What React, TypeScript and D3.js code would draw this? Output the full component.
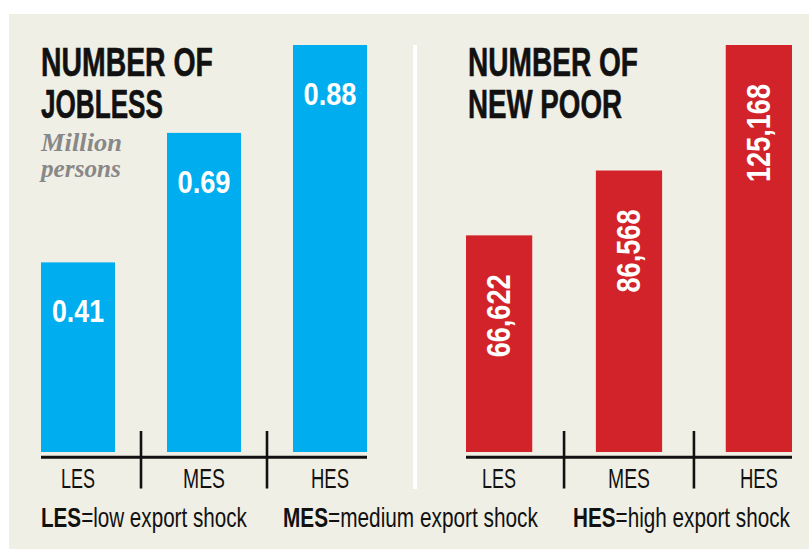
import React, { useLayoutEffect, useRef, useState } from "react";
import * as d3 from "d3";

const categories = ["LES", "MES", "HES"];
const joblessValues = [0.41, 0.69, 0.88];
const joblessLabels = ["0.41", "0.69", "0.88"];
const poorValues = [66622, 86568, 125168];
const poorLabels = ["66,622", "86,568", "125,168"];
const legendKeys = ["LES", "MES", "HES"];
const legendDescs = ["=low export shock", "=medium export shock", "=high export shock"];

const W = 809;
const H = 550;
const BG = "#f0efe5";
const BLUE = "#00aeef";
const RED = "#d2232a";
const INK = "#111111";
const COND = "'Liberation Sans Narrow', 'Liberation Sans', Arial, sans-serif";
const SERIF = "'Liberation Serif', 'DejaVu Serif', serif";

const catLabelW: Record<string, number> = { LES: 34, MES: 42, HES: 38 };

function FitText({ x, y, width, children, ...props }: any) {
  const ref = useRef<SVGTextElement>(null);
  const [s, setS] = useState(1);
  useLayoutEffect(() => {
    if (ref.current) {
      const w = ref.current.getComputedTextLength();
      if (w > 0) setS(width / w);
    }
  }, [width]);
  return (
    <text ref={ref} transform={`translate(${x},${y}) scale(${s},1)`} {...props}>
      {children}
    </text>
  );
}

function Panel({ values, labels, color, x0, x1, pad, domainMax, title, rotated, labelWidths }: any) {
  const x = d3.scaleBand<string>().domain(categories).range([x0, x1]).paddingInner(pad).paddingOuter(0);
  const y = d3.scaleLinear().domain([0, domainMax]).range([452, 45]);
  const bw = x.bandwidth();
  const gap = x.step() - bw;
  return (
    <g>
      {categories.map((c, i) => {
        const bx = x(c)!;
        const top = y(values[i]);
        const cx = bx + bw / 2;
        return (
          <g key={c}>
            <rect x={bx} y={top} width={bw} height={y(0) - top} fill={color} />
            {rotated ? (
              <text
                transform={`translate(${cx + 11},${top + 39}) rotate(-90)`}
                textAnchor="end"
                fontFamily={COND}
                fontWeight="bold"
                fontSize={33}
                fill="#fff"
                textLength={labelWidths[i]}
                lengthAdjust="spacingAndGlyphs"
              >
                {labels[i]}
              </text>
            ) : (
              <FitText
                x={cx - labelWidths[i] / 2}
                y={top + 60}
                width={labelWidths[i]}
                fontFamily={COND}
                fontWeight="bold"
                fontSize={32}
                fill="#fff"
              >
                {labels[i]}
              </FitText>
            )}
            <FitText
              x={cx - catLabelW[c] / 2}
              y={488}
              width={catLabelW[c]}
              fontFamily={COND}
              fontSize={28}
              fill={INK}
            >
              {c}
            </FitText>
          </g>
        );
      })}
      <line x1={x0} x2={x1} y1={457.3} y2={457.3} stroke={INK} strokeWidth={3} />
      {categories.slice(1).map((c) => {
        const tx = x(c)! - gap / 2;
        return <line key={c} x1={tx} x2={tx} y1={431} y2={488.5} stroke={INK} strokeWidth={2.6} />;
      })}
      {title.map((t: any, i: number) => (
        <FitText
          key={i}
          x={t.x}
          y={i === 0 ? 76 : 118}
          width={t.w}
          fontFamily={COND}
          fontWeight="bold"
          fontSize={40}
          fill={INK}
          stroke={INK}
          strokeWidth={0.6}
        >
          {t.text}
        </FitText>
      ))}
    </g>
  );
}

export default function App() {
  const legendX = [41, 283, 573];
  const legendW = [206, 255, 217];
  return (
    <svg width={W} height={H} style={{ position: "absolute", left: 0, top: 0 }}>
      <rect x={0} y={0} width={W} height={H} fill="#fff" />
      <rect x={9} y={14} width={W - 9} height={535} fill={BG} />
      <rect x={413} y={45} width={4} height={444} fill="#fff" />
      <Panel
        values={joblessValues}
        labels={joblessLabels}
        labelWidths={[52, 53, 53]}
        color={BLUE}
        x0={41}
        x1={367}
        pad={0.4127}
        domainMax={0.88}
        rotated={false}
        title={[
          { text: "NUMBER OF", x: 41, w: 172 },
          { text: "JOBLESS", x: 41, w: 122 },
        ]}
      />
      <Panel
        values={poorValues}
        labels={poorLabels}
        labelWidths={[83, 83, 98]}
        color={RED}
        x0={466}
        x1={792}
        pad={0.49}
        domainMax={125168}
        rotated={true}
        title={[
          { text: "NUMBER OF", x: 468, w: 170 },
          { text: "NEW POOR", x: 468, w: 154 },
        ]}
      />
      <FitText x={41} y={151} width={81} fontFamily={SERIF} fontStyle="italic" fontWeight="bold" fontSize={25} fill="#888888">
        Million
      </FitText>
      <FitText x={41} y={177} width={80} fontFamily={SERIF} fontStyle="italic" fontWeight="bold" fontSize={25} fill="#888888">
        persons
      </FitText>
      {legendKeys.map((k, i) => (
        <FitText key={k} x={legendX[i]} y={527} width={legendW[i]} fontFamily={COND} fontSize={27} fill={INK}>
          <tspan fontWeight="bold">{k}</tspan>
          <tspan>{legendDescs[i]}</tspan>
        </FitText>
      ))}
    </svg>
  );
}
